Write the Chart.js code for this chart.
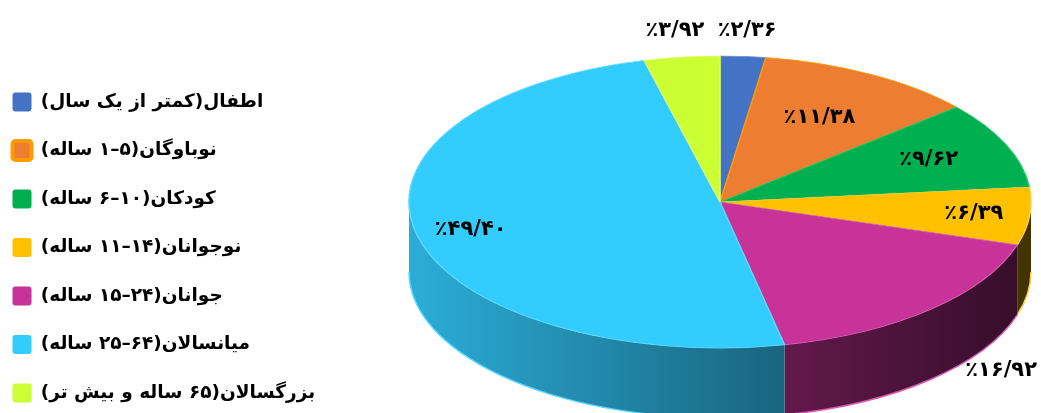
<!DOCTYPE html>
<html><head><meta charset="utf-8">
<script src="https://cdn.jsdelivr.net/npm/chart.js@4.4.1/dist/chart.umd.min.js"></script>
<style>html,body{margin:0;padding:0;background:#fff;overflow:hidden;width:1041px;height:413px}canvas{display:block}</style>
</head><body><canvas id="c" width="1041" height="470"></canvas>
<script>
// ---- data ----
const categories = [
  'اطفال(کمتر از یک سال)',
  'نوباوگان(۵–۱ ساله)',
  'کودکان(۱۰–۶ ساله)',
  'نوجوانان(۱۴–۱۱ ساله)',
  'جوانان(۲۴–۱۵ ساله)',
  'میانسالان(۶۴–۲۵ ساله)',
  'بزرگسالان(۶۵ ساله و بیش تر)'
];
const shares = [2.36, 11.38, 9.62, 6.39, 16.92, 49.40, 3.92];

// ---- styles ----
const sliceColors  = ['#4472C4', '#ED7D31', '#00B050', '#FFC000', '#C8339A', '#33CCFF', '#CCFF33'];
const sliceBorders = ['#6A8FD6', '#FF9A00', '#2CC46C', '#FFD040', '#D659AE', '#5CD8FF', '#DDFF66'];
const legendStroke = [0, 4, 0, 0, 0, 0, 0];
const labelRadius  = [1.18, 0.66, 0.73, 0.82, 1.56, 0.823, 1.18];
const FONT = "'DejaVu Sans', 'Noto Sans', sans-serif";

const faDigits = '۰۱۲۳۴۵۶۷۸۹';
function faPercent(v) {
  return '٪' + v.toFixed(2).replace(/\d/g, d => faDigits[d]).replace('.', '/');
}
function shade(hex, f) {
  const n = parseInt(hex.slice(1), 16);
  const r = Math.round(((n >> 16) & 255) * f), g = Math.round(((n >> 8) & 255) * f), b = Math.round((n & 255) * f);
  return `rgb(${r},${g},${b})`;
}

const pie3d = {
  id: 'pie3d',
  beforeDatasetsDraw(chart, args, o) {
    const ctx = chart.ctx;
    const arcs = chart.getDatasetMeta(0).data;
    ctx.save();
    arcs.forEach((arc, i) => {
      const a = Math.max(arc.startAngle, 0), b = Math.min(arc.endAngle, Math.PI);
      if (b <= a) return;
      const col = sliceColors[i];
      const grad = ctx.createLinearGradient(o.cx - o.rx, 0, o.cx + o.rx, 0);
      grad.addColorStop(0, shade(col, 0.85));
      grad.addColorStop(1, shade(col, 0.26));
      ctx.beginPath();
      ctx.ellipse(o.cx, o.cy, o.rx, o.ry, 0, a, b);
      ctx.ellipse(o.cx, o.cy + o.depth, o.rx, o.ry, 0, b, a, true);
      ctx.closePath();
      ctx.fillStyle = grad;
      ctx.fill();
      ctx.beginPath();
      ctx.ellipse(o.cx, o.cy + o.depth, o.rx, o.ry, 0, a, b);
      ctx.strokeStyle = sliceBorders[i];
      ctx.lineWidth = 1.5;
      ctx.stroke();
    });
    ctx.restore();
    const a0 = arcs[0];
    ctx.save();
    ctx.translate(o.cx, o.cy);
    ctx.scale(o.rx / a0.outerRadius, o.ry / a0.outerRadius);
    ctx.translate(-a0.x, -a0.y);
  },
  afterDatasetsDraw(chart, args, o) {
    const ctx = chart.ctx;
    ctx.restore();
    const arcs = chart.getDatasetMeta(0).data;
    const vals = chart.data.datasets[0].data;
    ctx.save();
    ctx.font = `bold ${o.fontSize}px ${FONT}`;
    ctx.fillStyle = '#000';
    ctx.textAlign = 'center';
    ctx.textBaseline = 'middle';
    ctx.direction = 'ltr';
    arcs.forEach((arc, i) => {
      const mid = (arc.startAngle + arc.endAngle) / 2;
      const k = o.labelRadius[i];
      const txt = faPercent(vals[i]);
      const w = ctx.measureText(txt).width;
      let x = o.cx + k * o.rx * Math.cos(mid);
      const y = o.cy + k * o.ry * Math.sin(mid);
      x = Math.min(x, chart.width - w / 2 - 4);
      ctx.fillText(txt, x, y);
    });
    ctx.restore();
  }
};

new Chart(document.getElementById('c'), {
  type: 'pie',
  data: {
    labels: categories,
    datasets: [{
      data: shares,
      backgroundColor: sliceColors,
      borderColor: sliceBorders,
      borderWidth: 1,
      hoverOffset: 0,
      clip: false
    }]
  },
  options: {
    responsive: false,
    devicePixelRatio: 1,
    animation: false,
    events: [],
    layout: { padding: { top: 63, left: -17, right: 0, bottom: 0 } },
    plugins: {
      tooltip: { enabled: false },
      pie3d: { cx: 720, cy: 202, rx: 311, ry: 146, depth: 70, labelRadius, fontSize: 21 },
      legend: {
        position: 'left',
        align: 'start',
        rtl: false,
        textDirection: 'rtl',
        labels: {
          boxWidth: 19,
          boxHeight: 19,
          padding: 29.5,
          useBorderRadius: true,
          borderRadius: 3,
          color: '#000',
          font: { family: FONT, size: 18.5, weight: 'bold' },
          generateLabels(chart) {
            const items = Chart.overrides.doughnut.plugins.legend.labels.generateLabels(chart);
            items.forEach((it, i) => {
              it.lineWidth = legendStroke[i];
              it.strokeStyle = sliceBorders[i];
            });
            return items;
          }
        }
      }
    }
  },
  plugins: [pie3d]
});
</script>
</body></html>
